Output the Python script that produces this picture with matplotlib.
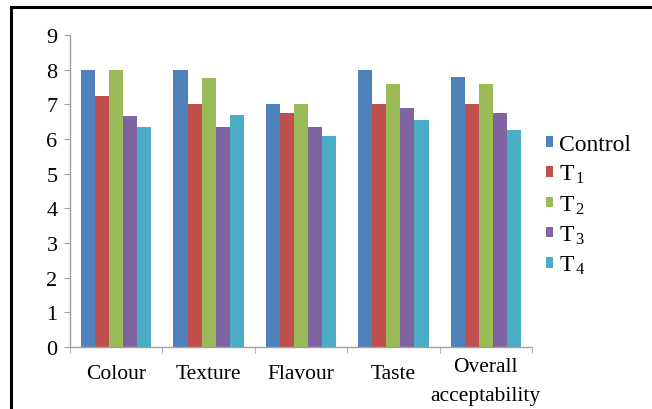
import matplotlib
matplotlib.use("Agg")
import matplotlib.pyplot as plt
import matplotlib.transforms as mtransforms
from matplotlib.lines import Line2D
import numpy as np

plt.rcParams["font.family"] = ["Liberation Serif", "DejaVu Serif"]
plt.rcParams["mathtext.fontset"] = "custom"
plt.rcParams["mathtext.rm"] = "Liberation Serif"
plt.rcParams["mathtext.it"] = "Liberation Serif"

categories = ["Colour", "Texture", "Flavour", "Taste", "Overall\nacceptability"]
series_names = ["Control", r"T$_{\,\mathregular{1}}$", r"T$_{\,\mathregular{2}}$",
                r"T$_{\,\mathregular{3}}$", r"T$_{\,\mathregular{4}}$"]
control = [8.0, 8.0, 7.0, 8.0, 7.8]
t1 = [7.25, 7.0, 6.75, 7.0, 7.0]
t2 = [8.0, 7.75, 7.0, 7.6, 7.6]
t3 = [6.65, 6.35, 6.35, 6.9, 6.75]
t4 = [6.35, 6.7, 6.1, 6.55, 6.25]
series = [control, t1, t2, t3, t4]
colors = ["#4F81BD", "#C0504D", "#9BBB59", "#8064A2", "#4BACC6"]

fig = plt.figure(figsize=(6.52, 4.10), dpi=100)
ax = fig.add_axes([70 / 652, 1 - 348 / 410, (532 - 70) / 652, (348 - 36) / 410])

x = np.arange(len(categories))
bw = 0.152
for i, (vals, col, name) in enumerate(zip(series, colors, series_names)):
    ax.bar(x + (i - 2) * bw, vals, width=bw, color=col, label=name, linewidth=0)

ax.set_xlim(-0.5, len(categories) - 0.5)
ax.set_ylim(0, 9)
ax.set_yticks(range(0, 10))
ax.tick_params(axis="y", labelsize=16, length=4, color="#A0A0A0", pad=5)
ax.set_xticks(x)
ax.set_xticklabels(categories, fontsize=15.5, linespacing=1.75)
ax.tick_params(axis="x", length=0, pad=12)
ax.set_xticks(np.arange(-0.5, len(categories)), minor=True)
ax.tick_params(axis="x", which="minor", length=4, color="#A0A0A0")

# lift the two-line label a little
lbl = ax.get_xticklabels()[-1]
lbl.set_transform(lbl.get_transform() + mtransforms.ScaledTranslation(0, 7 / 100, fig.dpi_scale_trans))

for s in ["top", "right"]:
    ax.spines[s].set_visible(False)
for s in ["left", "bottom"]:
    ax.spines[s].set_color("#A0A0A0")
    ax.spines[s].set_linewidth(1)

leg = ax.legend(loc="upper left", bbox_to_anchor=(546 / 652, 1 - 135 / 410),
                bbox_transform=fig.transFigure, frameon=False, fontsize=17,
                handlelength=0.3, handleheight=0.3, handletextpad=0.25,
                labelspacing=0.34, borderaxespad=0, borderpad=0)

# outer frame (left and top edges)
fig.add_artist(Line2D([11 / 652, 11 / 652], [0, 1 - 8 / 410], transform=fig.transFigure,
                      color="black", linewidth=2.2, solid_capstyle="projecting"))
fig.add_artist(Line2D([11 / 652, 1], [1 - 8 / 410, 1 - 8 / 410], transform=fig.transFigure,
                      color="black", linewidth=2.2, solid_capstyle="projecting"))

fig.savefig("out.png", dpi=100)
